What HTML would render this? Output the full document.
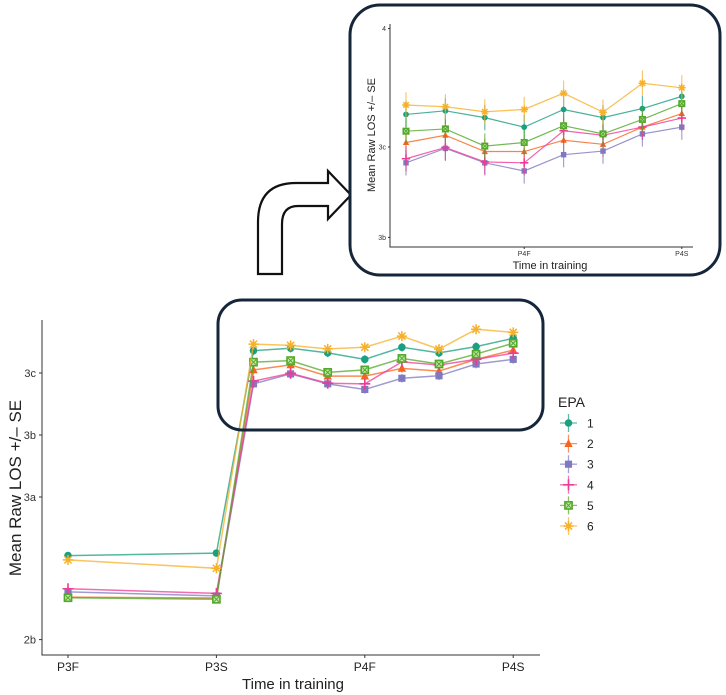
<!DOCTYPE html>
<html><head><meta charset="utf-8">
<style>
html,body{margin:0;padding:0;background:#fff;}
svg{display:block;font-family:"Liberation Sans",sans-serif;}
</style></head>
<body>
<svg id="chart" width="726" height="695" viewBox="0 0 726 695"></svg>
<script>
const categories = ["P3F","P3S","P4-1","P4-2","P4-3","P4F","P4-5","P4-6","P4-7","P4S"];
const xIndex = [0,4,5,6,7,8,9,10,11,12];
const tickLabels = ["P3F","P3S","P4F","P4S"];
const tickIndex = [0,4,8,12];
const yTickLabels = ["3c","3b","3a","2b"];
const yTickValues = [3.0,2.8,2.6,2.14];
const insetYTickLabels = ["4","3c","3b"];
const insetYTickValues = [3.262,3.0,2.80];
const seriesNames = ["1","2","3","4","5","6"];
const s1 = [2.411,2.419,3.072,3.080,3.065,3.044,3.083,3.065,3.085,3.112];
const s2 = [2.277,2.274,3.010,3.026,2.990,2.990,3.015,3.006,3.044,3.074];
const s3 = [2.294,2.281,2.965,2.997,2.965,2.947,2.983,2.991,3.029,3.044];
const s4 = [2.304,2.289,2.974,2.999,2.967,2.965,3.036,3.026,3.044,3.064];
const s5 = [2.275,2.270,3.035,3.040,3.002,3.010,3.047,3.029,3.061,3.096];
const s6 = [2.397,2.370,3.093,3.089,3.078,3.083,3.119,3.077,3.141,3.131];
const se = [0.015,0.015,0.028,0.028,0.028,0.028,0.028,0.028,0.028,0.028];

const series=[s1,s2,s3,s4,s5,s6];
const colors=["#1a9f80","#f5651e","#8078c0","#ee3b96","#52a82a","#f8b028"];
const shapes=["circle","triangle","square","plus","boxx","star"];
const svg=document.getElementById('chart');
const NS="http://www.w3.org/2000/svg";
function mk(tag,attrs,parent){const e=document.createElementNS(NS,tag);for(const k in attrs)e.setAttribute(k,attrs[k]);(parent||svg).appendChild(e);return e;}

// main axes
const X=i=>68+i*37.1;
const Y=v=>373+(3-v)*310;
// inset axes
const IX=i=>406+(i-5)*39.4;
const IY=v=>147-(v-3)*452;

function marker(g,shape,cx,cy,c,s){
  if(shape==="circle")mk('circle',{cx,cy,r:s*0.9,fill:c},g);
  else if(shape==="triangle")mk('polygon',{points:`${cx},${cy-s*1.1} ${cx-s},${cy+s*0.8} ${cx+s},${cy+s*0.8}`,fill:c},g);
  else if(shape==="square")mk('rect',{x:cx-s*0.85,y:cy-s*0.85,width:s*1.7,height:s*1.7,fill:c},g);
  else if(shape==="plus"){mk('path',{d:`M${cx-s*1.3},${cy}H${cx+s*1.3}M${cx},${cy-s*1.3}V${cy+s*1.3}`,stroke:c,'stroke-width':1.6},g);}
  else if(shape==="boxx"){mk('rect',{x:cx-s*0.85,y:cy-s*0.85,width:s*1.7,height:s*1.7,fill:"#c7e8a8",stroke:c,'stroke-width':1.6},g);
    mk('path',{d:`M${cx-s*0.6},${cy-s*0.6}L${cx+s*0.6},${cy+s*0.6}M${cx+s*0.6},${cy-s*0.6}L${cx-s*0.6},${cy+s*0.6}`,stroke:c,'stroke-width':1},g);}
  else if(shape==="star"){mk('path',{d:`M${cx-s*1.2},${cy}H${cx+s*1.2}M${cx},${cy-s*1.2}V${cy+s*1.2}M${cx-s*0.85},${cy-s*0.85}L${cx+s*0.85},${cy+s*0.85}M${cx+s*0.85},${cy-s*0.85}L${cx-s*0.85},${cy+s*0.85}`,stroke:c,'stroke-width':1.5},g);}
}

// ---- main chart ----
const mainAxes=mk('g',{});


mk('path',{d:"M42,320V655H540",stroke:"#333",'stroke-width':1,fill:"none"},mainAxes);
yTickLabels.forEach((t,i)=>{
  const y=Y(yTickValues[i]);
  mk('line',{x1:39,x2:42,y1:y,y2:y,stroke:"#333"},mainAxes);
  const tx=mk('text',{x:36,y:y+4,'text-anchor':'end','font-size':11,fill:"#333"},mainAxes);tx.textContent=t;
  
  
});
tickLabels.forEach((t,i)=>{
  const x=X(tickIndex[i]);
  mk('line',{x1:x,x2:x,y1:655,y2:658,stroke:"#333"},mainAxes);
  const tx=mk('text',{x:x,y:671,'text-anchor':'middle','font-size':12,fill:"#222"},mainAxes);tx.textContent=t;
  
  
});
const xt=mk('text',{x:293,y:689,'text-anchor':'middle','font-size':15,fill:"#222"});xt.textContent="Time in training";


const yt=mk('text',{x:0,y:0,'text-anchor':'middle','font-size':17,fill:"#222",transform:"translate(21,488) rotate(-90)"});yt.textContent="Mean Raw LOS +/\u2013 SE";



series.forEach((s,k)=>{
  const g=mk('g',{});
  
  
  mk('polyline',{points:s.map((v,i)=>X(xIndex[i])+","+Y(v)).join(" "),fill:"none",stroke:colors[k],'stroke-width':1.5,'stroke-opacity':0.75},g);
  s.forEach((v,i)=>{
    const x=X(xIndex[i]);
    mk('line',{x1:x,x2:x,y1:Y(v+se[i]*0.5),y2:Y(v-se[i]*0.5),stroke:colors[k],'stroke-width':1.3,'stroke-opacity':0.7},g);
    marker(g,shapes[k],x,Y(v),colors[k],4.2);
  });
});

// highlight box
const hb=mk('rect',{x:218,y:300,width:325,height:130,rx:24,ry:24,fill:"none",stroke:"#16263a",'stroke-width':3});



// legend
const lg=mk('g',{});


const lt=mk('text',{x:558,y:407,'font-size':14,fill:"#222"},lg);lt.textContent="EPA";
seriesNames.forEach((n,k)=>{
  const y=423+k*20.6;
  const e=mk('g',{},lg);
  
  
  mk('path',{d:`M560,${y}H577M568.5,${y-9}V${y+9}`,stroke:colors[k],'stroke-width':1.3,'stroke-opacity':0.7},e);
  marker(e,shapes[k],568.5,y,colors[k],4.2);
  const t=mk('text',{x:587,y:y+4.5,'font-size':12,fill:"#222"},e);t.textContent=n;
});

// arrow
const ar=mk('path',{d:"M258,274 L258,222 Q258,183 296,183 L328,183 L328,171 L351,195 L328,219 L328,206 L298,206 Q282,206 282,224 L282,274 Z",fill:"#fff",stroke:"#111",'stroke-width':2.2,'stroke-linejoin':'miter'});



// ---- inset ----
const inset=mk('g',{});


mk('rect',{x:350,y:5,width:370,height:270,rx:30,ry:30,fill:"#fff",stroke:"#16263a",'stroke-width':3},inset);
mk('path',{d:"M390,24V247H693",stroke:"#333",'stroke-width':1,fill:"none"},inset);
insetYTickLabels.forEach((t,i)=>{
  const y=IY(insetYTickValues[i]);
  mk('line',{x1:388,x2:390,y1:y,y2:y,stroke:"#333"},inset);
  const tx=mk('text',{x:386,y:y+2.5,'text-anchor':'end','font-size':7,fill:"#333"},inset);tx.textContent=t;
});
[2,3].forEach(j=>{
  const x=IX(tickIndex[j]);
  mk('line',{x1:x,x2:x,y1:247,y2:249,stroke:"#333"},inset);
  const tx=mk('text',{x:x,y:256,'text-anchor':'middle','font-size':7,fill:"#333"},inset);tx.textContent=tickLabels[j];
});
const it=mk('text',{x:550,y:269,'text-anchor':'middle','font-size':11,fill:"#222"},inset);it.textContent="Time in training";


const iy=mk('text',{x:0,y:0,'text-anchor':'middle','font-size':11,fill:"#222",transform:"translate(375,135) rotate(-90)"},inset);iy.textContent="Mean Raw LOS +/\u2013 SE";


series.forEach((s,k)=>{
  const g=mk('g',{},inset);
  
  
  const pts=[];
  s.forEach((v,i)=>{if(xIndex[i]>=5)pts.push(IX(xIndex[i])+","+IY(v));});
  mk('polyline',{points:pts.join(" "),fill:"none",stroke:colors[k],'stroke-width':1.2,'stroke-opacity':0.8},g);
  s.forEach((v,i)=>{
    if(xIndex[i]<5)return;
    const x=IX(xIndex[i]);
    mk('line',{x1:x,x2:x,y1:IY(v+se[i]),y2:IY(v-se[i]),stroke:colors[k],'stroke-width':1.2,'stroke-opacity':0.7},g);
    marker(g,shapes[k],x,IY(v),colors[k],3.2);
  });
});
</script>
</body></html>
